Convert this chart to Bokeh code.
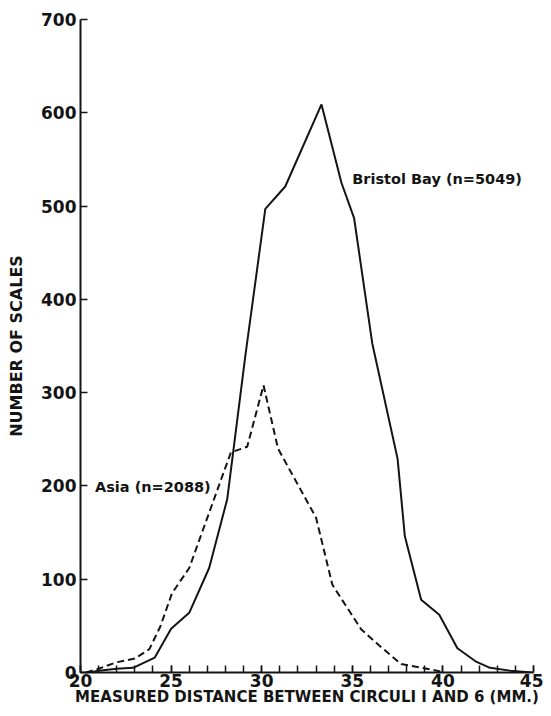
from bokeh.plotting import figure
from bokeh.models import SingleIntervalTicker, Label
from bokeh.embed import file_html
from bokeh.resources import INLINE

# Bristol Bay (solid) - distance (mm) vs number of scales
bristol_x = [20.5, 21.0, 22.0, 22.9, 24.1, 25.0, 26.0, 27.1, 28.1, 29.1, 30.2, 31.3, 33.3,
             34.4, 35.1, 36.1, 37.5, 37.9, 38.8, 39.8, 40.8, 41.8, 42.6, 43.7, 44.9]
bristol_y = [0, 2, 4, 5, 16, 47, 64, 112, 186, 340, 497, 521, 609,
             525, 487, 353, 229, 146, 78, 62, 26, 12, 5, 2, 0]

# Asia (dashed)
asia_x = [20.3, 21.0, 22.0, 23.0, 23.8, 24.4, 25.05, 26.0, 28.3, 29.2, 30.1, 30.9,
          33.0, 33.9, 35.5, 36.6, 37.7, 39.4, 39.9]
asia_y = [0, 4, 11, 15, 25, 49, 85, 112, 236, 242, 308, 240,
          166, 94, 46, 27, 9, 3, 1]

x_title = "MEASURED DISTANCE BETWEEN CIRCULI I AND 6 (MM.)"
y_title = "NUMBER OF SCALES"
bristol_label = "Bristol Bay (n=5049)"
asia_label = "Asia (n=2088)"

FONT = "DejaVu Sans"
INK = "#141414"

p = figure(width=543, height=708, x_range=(20, 45), y_range=(0, 700),
           output_backend="svg", toolbar_location=None,
           min_border_left=80, min_border_right=10,
           min_border_top=19, min_border_bottom=35)

p.background_fill_color = "white"
p.border_fill_color = "white"
p.outline_line_color = None
p.xgrid.visible = False
p.ygrid.visible = False

p.xaxis.ticker = SingleIntervalTicker(interval=5, num_minor_ticks=5)
p.yaxis.ticker = SingleIntervalTicker(interval=100, num_minor_ticks=0)

for ax in (p.xaxis[0], p.yaxis[0]):
    ax.axis_line_color = INK
    ax.axis_line_width = 2
    ax.major_tick_line_color = INK
    ax.major_tick_line_width = 1.5
    ax.major_tick_in = 7
    ax.major_tick_out = 0
    ax.minor_tick_line_color = INK
    ax.minor_tick_line_width = 1.5
    ax.minor_tick_in = 7
    ax.minor_tick_out = 0
    ax.major_label_text_font = FONT
    ax.major_label_text_font_style = "bold"
    ax.major_label_text_font_size = "17px"
    ax.major_label_text_color = INK
    ax.axis_label_text_font = FONT
    ax.axis_label_text_font_style = "bold"
    ax.axis_label_text_color = INK

p.xaxis.axis_label = x_title
p.xaxis.axis_label_text_font_size = "15px"
p.xaxis.axis_label_standoff = -2
p.xaxis.major_label_standoff = 1

p.yaxis.axis_label = y_title
p.yaxis.axis_label_text_font_size = "16px"
p.yaxis.axis_label_standoff = 12
p.yaxis.major_label_standoff = 4

p.line(bristol_x, bristol_y, line_width=2, line_color=INK)
p.line(asia_x, asia_y, line_width=2, line_color=INK, line_dash="7 4")

p.add_layout(Label(x=35.0, y=529, text=bristol_label, text_baseline="middle",
                   text_align="left", text_font=FONT, text_font_style="bold",
                   text_font_size="14.5px", text_color=INK))
p.add_layout(Label(x=20.8, y=199, text=asia_label, text_baseline="middle",
                   text_align="left", text_font=FONT, text_font_style="bold",
                   text_font_size="14.5px", text_color=INK))

open("out.html", "w").write(file_html(p, INLINE))
